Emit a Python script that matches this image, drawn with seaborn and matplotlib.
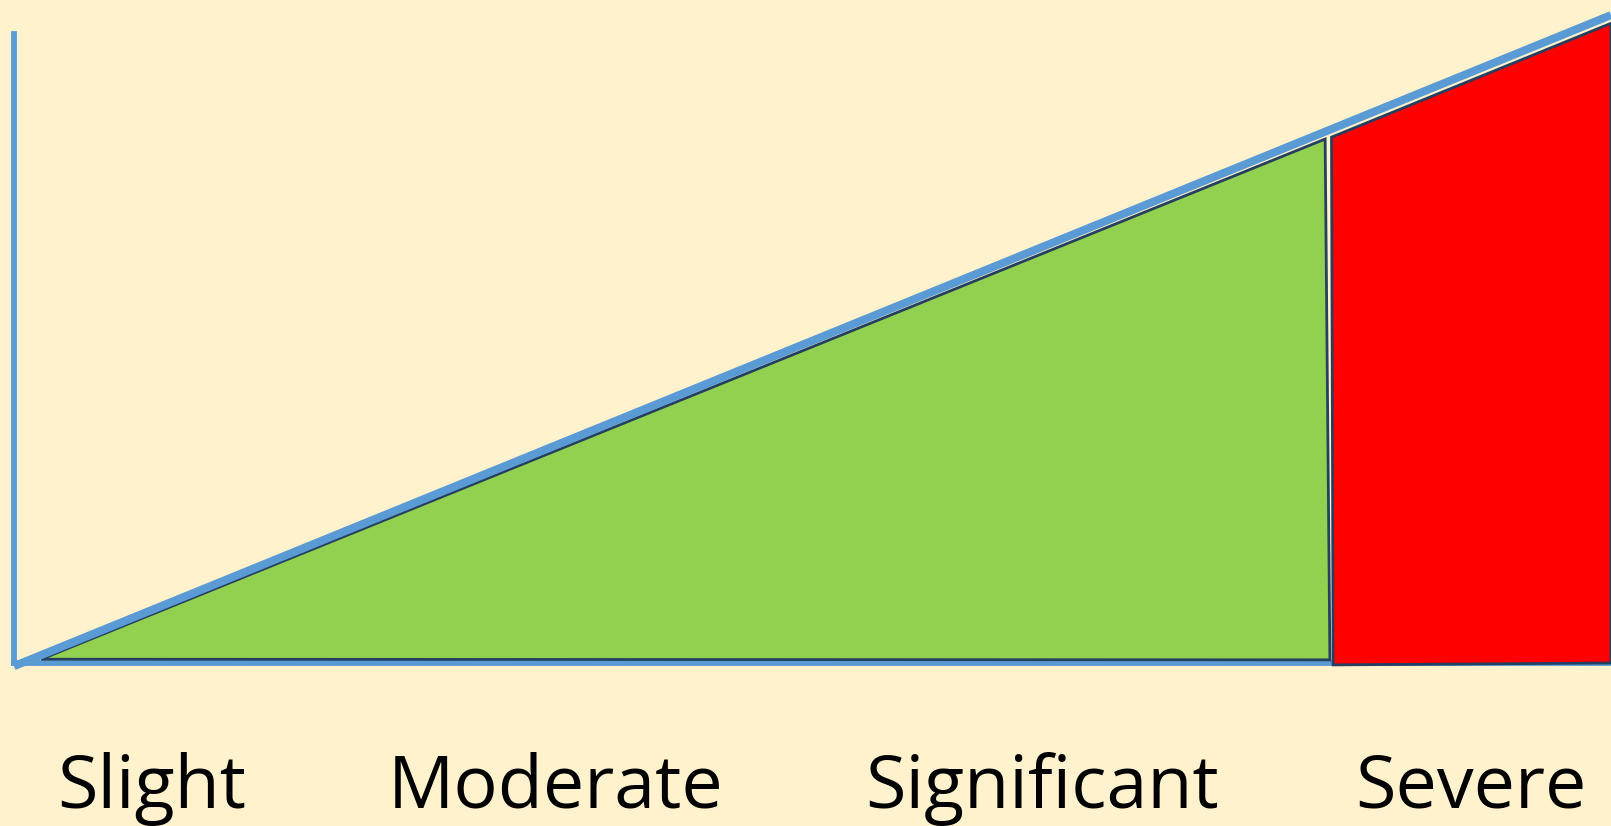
import matplotlib.pyplot as plt
import pandas as pd
import seaborn as sns

# severity scale (0-100) against risk (0-100)
levels = ["Slight", "Moderate", "Significant", "Severe"]
level_pos = [8.6, 33.9, 64.4, 91.2]

diag_x = [0, 100]
diag_y = [-0.5, 103]

green_x = [1.7, 82.1, 82.4]
green_y = [0.6, 83.3, 0.5]

red_x = [82.5, 100, 100, 82.6]
red_y = [83.6, 101.7, 0, -0.3]

cream = "#FFF2CC"
blue = "#5B9BD5"
navy = "#243F60"

sns.set_theme(style="white", rc={"axes.facecolor": cream, "figure.facecolor": cream})
plt.rcParams["font.family"] = ["Open Sans", "DejaVu Sans"]

fig = plt.figure(figsize=(16.11, 8.26), dpi=100)
ax = fig.add_axes([14 / 1611, 163 / 826, 1 - 14 / 1611, 629 / 826])

ax.fill(green_x, green_y, facecolor="#92D050", edgecolor=navy, linewidth=2.0, zorder=2)
ax.fill(red_x, red_y, facecolor="#FF0000", edgecolor=navy, linewidth=2.0, zorder=2, clip_on=False)

df = pd.DataFrame({"x": diag_x, "y": diag_y})
sns.lineplot(data=df, x="x", y="y", ax=ax, color=blue, linewidth=5.8, zorder=4,
             solid_capstyle="butt")
for line in ax.lines:
    line.set_clip_on(False)

ax.set_xlim(0, 100)
ax.set_ylim(0, 100)
ax.set_xlabel("")
ax.set_ylabel("")
ax.set_yticks([])
ax.set_xticks(level_pos)
ax.set_xticklabels(levels, fontsize=53, color="black")
ax.tick_params(axis="x", length=0, pad=64)

for side in ["top", "right"]:
    ax.spines[side].set_visible(False)
for side in ["left", "bottom"]:
    ax.spines[side].set_color(blue)
    ax.spines[side].set_linewidth(4.2)
    ax.spines[side].set_zorder(1)

fig.savefig("out.png", dpi=100, facecolor=cream)
